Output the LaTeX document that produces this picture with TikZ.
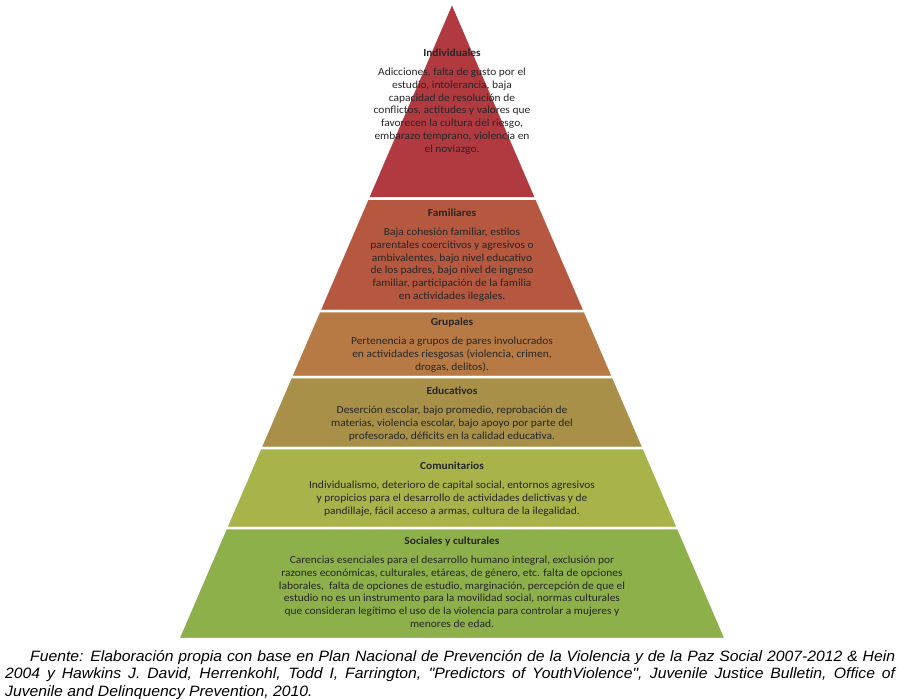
\documentclass[tikz,border=0pt]{standalone}
\usepackage{fontspec}
\setmainfont{Carlito}
\newfontfamily\pyrfont[FakeStretch=1.06]{Carlito}
\newfontfamily\capfont[FakeStretch=1.05]{Liberation Sans}
\usepackage{xcolor}
\usetikzlibrary{positioning}

\definecolor{indivcol}{HTML}{B03A40}
\definecolor{famcol}{HTML}{B5583F}
\definecolor{grupcol}{HTML}{B87A45}
\definecolor{educcol}{HTML}{A89048}
\definecolor{comucol}{HTML}{A8B34A}
\definecolor{soccol}{HTML}{8DB04A}

\newcommand{\pyrlayer}[3]{%
  \filldraw[fill=#3, draw=white, line width=2.5pt]
    ({452-0.43*(#1-2)},#1) -- ({452+0.43*(#1-2)},#1)
    -- ({452+0.43*(#2-2)},#2) -- ({452-0.43*(#2-2)},#2) -- cycle;}

\begin{document}
\begin{tikzpicture}[
  x=1pt, y=-1pt,
  ltitle/.style={anchor=base, inner sep=0pt, text height=7pt, text depth=2.5pt,
                 font=\pyrfont\fontsize{10.8}{12.8}\selectfont\bfseries, text=black!85},
  ltext/.style={inner sep=0pt, align=center,
                font=\pyrfont\fontsize{10.8}{12.8}\selectfont, text=black!85}
]
\useasboundingbox (0,0) rectangle (900,699);

\pyrlayer{2}{198.5}{indivcol}
\pyrlayer{198.5}{311}{famcol}
\pyrlayer{311}{377}{grupcol}
\pyrlayer{377}{448}{educcol}
\pyrlayer{448}{528}{comucol}
\pyrlayer{528}{639}{soccol}

\node[ltitle] (indivT) at (452,56.5) {Individuales};
\node[ltext, below=8.5pt of indivT] (indiv) {Adicciones, falta de gusto por el\\ estudio, intolerancia, baja\\ capacidad de resolución de\\ conflictos, actitudes y valores que\\ favorecen la cultura del riesgo,\\ embarazo temprano, violencia en\\ el noviazgo.};

\node[ltitle] (famT) at (452,216.5) {Familiares};
\node[ltext, below=8.5pt of famT] (fam) {Baja cohesión familiar, estilos\\ parentales coercitivos y agresivos o\\ ambivalentes, bajo nivel educativo\\ de los padres, bajo nivel de ingreso\\ familiar, participación de la familia\\ en actividades ilegales.};

\node[ltitle] (grupT) at (452,325.5) {Grupales};
\node[ltext, below=8.5pt of grupT] (grup) {Pertenencia a grupos de pares involucrados\\ en actividades riesgosas (violencia, crimen,\\ drogas, delitos).};

\node[ltitle] (educT) at (452,394.5) {Educativos};
\node[ltext, below=8.5pt of educT] (educ) {Deserción escolar, bajo promedio, reprobación de\\ materias, violencia escolar, bajo apoyo por parte del\\ profesorado, déficits en la calidad educativa.};

\node[ltitle] (comuT) at (452,469.5) {Comunitarios};
\node[ltext, below=8.5pt of comuT] (comu) {Individualismo, deterioro de capital social, entornos agresivos\\ y propicios para el desarrollo de actividades delictivas y de\\ pandillaje, fácil acceso a armas, cultura de la ilegalidad.};

\node[ltitle] (socT) at (452,544.5) {Sociales y culturales};
\node[ltext, below=8.5pt of socT] (soc) {Carencias esenciales para el desarrollo humano integral, exclusión por\\ razones económicas, culturales, etáreas, de género, etc. falta de opciones\\ laborales,\ \ falta de opciones de estudio, marginación, percepción de que el\\ estudio no es un instrumento para la movilidad social, normas culturales\\ que consideran legítimo el uso de la violencia para controlar a mujeres y\\ menores de edad.};

\node[anchor=base west, inner sep=0pt, text width=890pt, align=justify,
      font=\capfont\itshape\fontsize{15}{17.5}\selectfont] (fuente) at (5,661)
  {\hspace*{25pt}Fuente: Elaboración propia con base en Plan Nacional de Prevención de la Violencia y de la Paz Social 2007-2012 \& Hein\linebreak
   2004 y Hawkins J. David, Herrenkohl, Todd I, Farrington, "Predictors of YouthViolence", Juvenile Justice Bulletin, Office of\linebreak
   Juvenile and Delinquency Prevention, 2010.};
\end{tikzpicture}
\end{document}
